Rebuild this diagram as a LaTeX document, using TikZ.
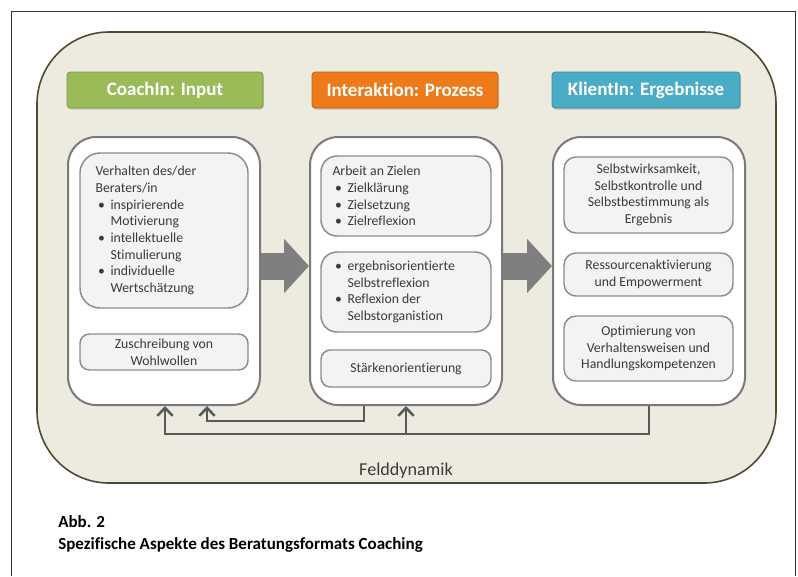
\documentclass[tikz,border=0pt]{standalone}
\usepackage{fontspec}
\setmainfont{Carlito}[Ligatures=NoCommon]
\usetikzlibrary{arrows.meta,fit,positioning,shadows}

\definecolor{feldgrund}{HTML}{EDEAE0}
\definecolor{feldrand}{HTML}{4F4A32}
\definecolor{inputgruen}{HTML}{9BBB59}
\definecolor{prozessorange}{HTML}{EE7A1A}
\definecolor{ergebnisblau}{HTML}{4BACC6}
\definecolor{spaltenrand}{HTML}{7A7A7A}
\definecolor{kastengrund}{HTML}{F3F3F3}
\definecolor{kastenrand}{HTML}{8C8C8C}
\definecolor{schrift}{HTML}{3A3A3A}
\definecolor{pfeilgrau}{HTML}{595959}
\definecolor{flussgrau}{HTML}{7F7F7F}

% bullet and hanging indent for the lists
\newcommand{\bul}{\makebox[11.25pt][l]{\hspace{2pt}\textbullet}}
\newcommand{\ein}{\hspace*{11.25pt}}

\tikzset{
  feld/.style={draw=feldrand, line width=1.2pt, fill=feldgrund, rounded corners=54pt, inner sep=0pt},
  kopf/.style={fill=#1, draw=#1!80!black, line width=0.6pt, rounded corners=2.5pt,
    drop shadow={opacity=0.35, shadow xshift=0.6pt, shadow yshift=-1.2pt},
    minimum height=27pt, inner sep=0pt, text=white, font=\fontsize{14.25}{16}\selectfont\bfseries},
  spalte/.style={draw=spaltenrand, line width=1.5pt, fill=white, rounded corners=21pt, inner sep=0pt},
  kasten/.style={draw=kastenrand, line width=1.1pt, fill=kastengrund, rounded corners=9pt, inner sep=0pt},
  inhalt/.style={font=\fontsize{10.3}{12.5}\selectfont, text=schrift, inner sep=0pt},
  rueck/.style={draw=pfeilgrau, line width=1.9pt, -{Straight Barb[length=6pt,width=11.5pt]}},
  fluss/.style={draw=flussgrau, line width=20.25pt, -{Triangle[length=18.75pt,width=39.75pt]}},
}

\begin{document}
\begin{tikzpicture}[x=0.75pt,y=0.75pt,yscale=-1]
\useasboundingbox (0,0) rectangle (798,576);

%Frame, open at the bottom
\draw[black!80, line width=0.75pt] (11,576) -- (11,11) -- (795,11) -- (795,576);

%Shape: field
\node[feld, fit={(37,32) (776,483)}] (feld) {};

%Headers
\node[kopf=inputgruen, minimum width=147pt] (kopfinput) at (165,90) {CoachIn: Input};
\node[kopf=prozessorange, minimum width=139.5pt] (kopfprozess) at (405,90) {Interaktion: Prozess};
\node[kopf=ergebnisblau, minimum width=141pt] (kopfergebnis) at (646,90) {KlientIn: Ergebnisse};

%Columns
\node[spalte, fit={(68,137) (260,405)}] (input) {};
\node[spalte, fit={(310,137) (502,405)}] (prozess) {};
\node[spalte, fit={(553,137) (745,405)}] (ergebnis) {};

%Boxes in the columns
\node[kasten, rounded corners=15pt, fit={(80,153) (248,308)}] (verhalten) {};
\node[kasten, rounded corners=7pt, fit={(80,334) (248,370)}] (wohlwollen) {};
\node[kasten, rounded corners=12pt, fit={(321,156) (491,236)}] (ziele) {};
\node[kasten, rounded corners=12pt, fit={(321,252) (491,332)}] (reflexion) {};
\node[kasten, rounded corners=7pt, fit={(321,350) (491,387)}] (staerken) {};
\node[kasten, fit={(564,157) (733,233)}] (selbst) {};
\node[kasten, fit={(564,253) (733,296)}] (ressourcen) {};
\node[kasten, fit={(564,316) (733,381)}] (optimierung) {};

% Text Nodes
\node[inhalt, align=left, right=12pt of verhalten.west] (verhaltentext)
  {Verhalten des/der\\Beraters/in\\\bul inspirierende\\\ein Motivierung\\\bul intellektuelle\\\ein Stimulierung\\\bul individuelle\\\ein Wertschätzung};
\node[inhalt, align=center] (wohlwollentext) at (wohlwollen) {Zuschreibung von\\Wohlwollen};
\node[inhalt, align=left, right=9pt of ziele.west] (zieletext)
  {Arbeit an Zielen\\\bul Zielklärung\\\bul Zielsetzung\\\bul Zielreflexion};
\node[inhalt, align=left, right=9pt of reflexion.west] (reflexiontext)
  {\bul ergebnisorientierte\\\ein Selbstreflexion\\\bul Reflexion der\\\ein Selbstorganistion};
\node[inhalt] (staerkentext) at (staerken) {Stärkenorientierung};
\node[inhalt, align=center] (selbsttext) at (selbst) {Selbstwirksamkeit,\\Selbstkontrolle und\\Selbstbestimmung als\\Ergebnis};
\node[inhalt, align=center] (ressourcentext) at (ressourcen) {Ressourcenaktivierung\\und Empowerment};
\node[inhalt, align=center] (optimierungtext) at (optimierung) {Optimierung von\\Verhaltensweisen und\\Handlungskompetenzen};

%Big arrows between the columns
\coordinate (flusshoehe) at (0,266);
\draw[fluss] (input.east |- flusshoehe) -- (prozess.west |- flusshoehe);
\draw[fluss] (prozess.east |- flusshoehe) -- (ergebnis.west |- flusshoehe);

%Feedback lines
\coordinate (rueckA) at (165,434);
\coordinate (rueckB) at (207,421);
\coordinate (rueckC) at (364,421);
\draw[rueck] (ergebnis.south) |- (rueckA) -- (rueckA |- input.south);
\draw[rueck] (rueckC |- prozess.south) -- (rueckC) -- (rueckB) -- (rueckB |- input.south);
\draw[rueck] (prozess.south |- rueckA) -- (prozess.south);

\node[inner sep=0pt, anchor=base, text=schrift, font=\fontsize{13.6}{16}\selectfont] (felddynamik) at (406,475) {Felddynamik};

%Caption
\node[inner sep=0pt, anchor=base west, font=\fontsize{12.75}{15}\selectfont\bfseries] (abb) at (58,527) {Abb. 2};
\node[inner sep=0pt, anchor=base west, font=\fontsize{12.75}{15}\selectfont\bfseries] (titel) at (58,549) {Spezifische Aspekte des Beratungsformats Coaching};

\end{tikzpicture}
\end{document}
